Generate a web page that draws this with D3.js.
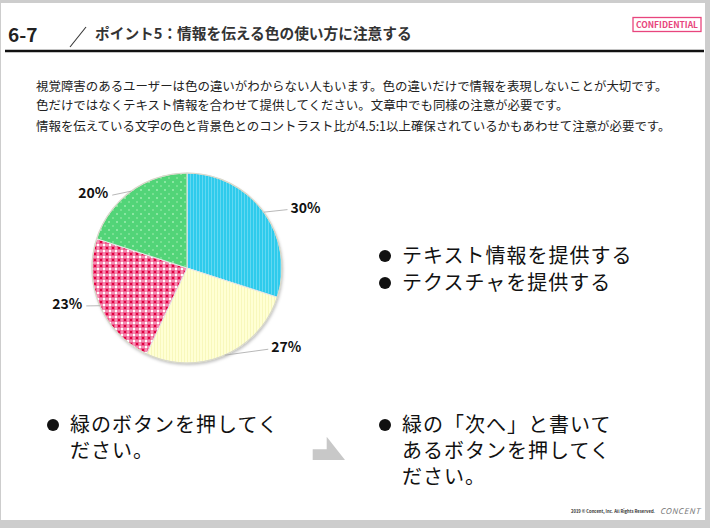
<!DOCTYPE html>
<html>
<head>
<meta charset="utf-8">
<script src="https://cdn.jsdelivr.net/npm/d3@7/dist/d3.min.js"></script>
<style>
  html, body { margin: 0; padding: 0; background: #fff; }
  svg { display: block; }
  text { font-family: "Noto Sans CJK JP", "Noto Sans", sans-serif; }
</style>
</head>
<body>
<div id="chart"></div>
<script>
// chart data
const categories = ['Blue', 'Yellow', 'Pink', 'Green'];
const values = [30, 27, 23, 20];
const valueLabels = ['30%', '27%', '23%', '20%'];

const bodyLines = [
    '視覚障害のあるユーザーは色の違いがわからない人もいます。色の違いだけで情報を表現しないことが大切です。',
    '色だけではなくテキスト情報を合わせて提供してください。文章中でも同様の注意が必要です。',
    '情報を伝えている文字の色と背景色とのコントラスト比が4.5:1以上確保されているかもあわせて注意が必要です。'
];
const rightBullets = ['テキスト情報を提供する', 'テクスチャを提供する'];
const leftNote = ['緑のボタンを押してく', 'ださい。'];
const rightNote = ['緑の「次へ」と書いて', 'あるボタンを押してく', 'ださい。'];

const W = 710, H = 528;
const svg = d3.select('#chart').append('svg')
    .attr('width', W)
    .attr('height', H);

// frame
svg.append('rect').attr('width', W).attr('height', H).attr('fill', '#cdcdcd');
svg.append('rect').attr('x', 1).attr('y', 3).attr('width', 704).attr('height', 517).attr('fill', '#fff');

const defs = svg.append('defs');

// textures for each slice
const pBlue = defs.append('pattern').attr('id', 'pat0').attr('patternUnits', 'userSpaceOnUse')
    .attr('width', 3).attr('height', 3);
pBlue.append('rect').attr('width', 3).attr('height', 3).attr('fill', '#2ecbec');
pBlue.append('rect').attr('width', 1).attr('height', 3).attr('fill', '#62d8f2');

const pYellow = defs.append('pattern').attr('id', 'pat1').attr('patternUnits', 'userSpaceOnUse')
    .attr('width', 3).attr('height', 3);
pYellow.append('rect').attr('width', 3).attr('height', 3).attr('fill', '#ffffd4');
pYellow.append('rect').attr('width', 1).attr('height', 3).attr('fill', '#f8f8bc');

const pPink = defs.append('pattern').attr('id', 'pat2').attr('patternUnits', 'userSpaceOnUse')
    .attr('width', 6).attr('height', 6);
pPink.append('rect').attr('width', 6).attr('height', 6).attr('fill', '#f05a8c');
pPink.append('rect').attr('x', 0).attr('y', 0).attr('width', 2).attr('height', 6).attr('fill', '#f490b3');
pPink.append('rect').attr('x', 0).attr('y', 0).attr('width', 6).attr('height', 2).attr('fill', '#f490b3');
pPink.append('rect').attr('x', 0).attr('y', 0).attr('width', 2).attr('height', 2).attr('fill', '#ffffff');
pPink.append('rect').attr('x', 3).attr('y', 3).attr('width', 2).attr('height', 2).attr('fill', '#e0003f');

const pGreen = defs.append('pattern').attr('id', 'pat3').attr('patternUnits', 'userSpaceOnUse')
    .attr('width', 8).attr('height', 8);
pGreen.append('rect').attr('width', 8).attr('height', 8).attr('fill', '#52d478');
pGreen.append('rect').attr('x', 1).attr('y', 1).attr('width', 2).attr('height', 2).attr('fill', '#8be6a2');
pGreen.append('rect').attr('x', 5).attr('y', 5).attr('width', 2).attr('height', 2).attr('fill', '#78df92');

const shadow = defs.append('filter').attr('id', 'shadow')
    .attr('x', '-10%').attr('y', '-10%').attr('width', '130%').attr('height', '130%');
shadow.append('feDropShadow').attr('dx', 1).attr('dy', 2).attr('stdDeviation', 1.5)
    .attr('flood-color', '#000').attr('flood-opacity', 0.25);

// header
svg.append('text').attr('x', 8).attr('y', 42)
    .attr('font-family', '"Liberation Sans", Arial, sans-serif')
    .attr('font-weight', 'bold').attr('font-size', 19).attr('fill', '#222')
    .text('6-7');
svg.append('line').attr('x1', 70).attr('y1', 47).attr('x2', 86).attr('y2', 27)
    .attr('stroke', '#333').attr('stroke-width', 1.1);
svg.append('text').attr('x', 95).attr('y', 39)
    .attr('font-weight', 'bold').attr('font-size', 14.7).attr('fill', '#333')
    .text('ポイント5：情報を伝える色の使い方に注意する');
svg.append('line').attr('x1', 5).attr('x2', 704).attr('y1', 51).attr('y2', 51)
    .attr('stroke', '#111').attr('stroke-width', 2.5);

svg.append('rect').attr('x', 633).attr('y', 17.5).attr('width', 68).attr('height', 14)
    .attr('fill', '#fff').attr('stroke', '#e8457d').attr('stroke-width', 1.3);
svg.append('text').attr('x', 667).attr('y', 28)
    .attr('text-anchor', 'middle')
    .attr('font-family', '"Liberation Sans", Arial, sans-serif')
    .attr('font-weight', 'bold').attr('font-size', 8.5).attr('fill', '#e8457d')
    .text('CONFIDENTIAL');

// body text
svg.append('g').selectAll('text')
    .data(bodyLines)
    .enter().append('text')
    .attr('x', 36)
    .attr('y', (d, i) => [91, 110, 131][i])
    .attr('font-size', 12.45)
    .attr('fill', '#222')
    .text(d => d);

// pie
const cx = 187, cy = 268, radius = 95;
const pie = d3.pie().sort(null).value(d => d)(values);
const arc = d3.arc().innerRadius(0).outerRadius(radius);

const pieG = svg.append('g').attr('transform', `translate(${cx},${cy})`);
pieG.append('circle').attr('r', radius).attr('fill', '#fff').attr('filter', 'url(#shadow)');
pieG.selectAll('path')
    .data(pie)
    .enter().append('path')
    .attr('d', arc)
    .attr('fill', (d, i) => `url(#pat${i})`)
    .attr('stroke', '#e6e6e6')
    .attr('stroke-width', 1);
pieG.append('circle').attr('r', radius).attr('fill', 'none')
    .attr('stroke', '#d8d8c8').attr('stroke-width', 1.2);

// data labels with leader lines
const labelAngles = [63, 128.6, 253.3, 308.6];
const labelRadii = [133, 127, 125, 120];
const edgeArc = d3.arc().innerRadius(radius).outerRadius(radius);

pie.forEach((d, i) => {
    const edge = edgeArc.centroid(d); // point on the rim at mid angle
    const a = labelAngles[i] * Math.PI / 180;
    const lx = cx + Math.sin(a) * labelRadii[i];
    const ly = cy - Math.cos(a) * labelRadii[i];
    const right = lx > cx;
    const endX = right ? lx - 18 : lx + 19;
    pieG.append('line')
        .attr('x1', edge[0]).attr('y1', edge[1])
        .attr('x2', endX - cx).attr('y2', ly + 2 - cy)
        .attr('stroke', '#a6a6a6').attr('stroke-width', 0.8);
    svg.append('text')
        .attr('x', lx).attr('y', ly + 5)
        .attr('text-anchor', 'middle')
        .attr('font-family', '"Liberation Sans", Arial, sans-serif')
        .attr('font-weight', 'bold').attr('font-size', 14).attr('fill', '#111')
        .text(valueLabels[i]);
});

// bullet lists, each block is one text with a tspan per line
function bulletBlock(lines, x, y0, step) {
    const g = svg.append('g');
    g.append('circle').attr('cx', x + 7).attr('cy', y0 - 7).attr('r', 6).attr('fill', '#111');
    g.append('text')
        .attr('x', x + 24)
        .attr('y', y0)
        .attr('font-size', 20)
        .attr('letter-spacing', 1)
        .attr('fill', '#111')
        .selectAll('tspan')
        .data(lines)
        .enter().append('tspan')
        .attr('x', x + 24)
        .attr('dy', (d, i) => i === 0 ? 0 : step)
        .text(d => d);
    return g;
}
rightBullets.forEach((t, i) => bulletBlock([t], 378, 263 + i * 27, 27));
bulletBlock(leftNote, 46, 432, 26);
bulletBlock(rightNote, 378, 432, 26);

// arrow between the two notes
svg.append('path')
    .attr('d', 'M326.7,436.7 L345,460 L312.7,460 L312.7,449.3 L326.7,449.3 Z')
    .attr('fill', '#c8c8c8');

// footer
svg.append('text').attr('x', 655).attr('y', 513)
    .attr('text-anchor', 'end')
    .attr('font-family', '"Liberation Sans", Arial, sans-serif')
    .attr('font-weight', 'bold').attr('font-size', 4.2).attr('fill', '#333')
    .text('2019 © Concent, Inc. All Rights Reserved.');
svg.append('text').attr('x', 660).attr('y', 514)
    .attr('font-family', '"Liberation Sans", Arial, sans-serif')
    .attr('font-style', 'italic').attr('font-size', 8).attr('letter-spacing', 0.5).attr('fill', '#777')
    .text('CONCENT');
</script>
</body>
</html>
